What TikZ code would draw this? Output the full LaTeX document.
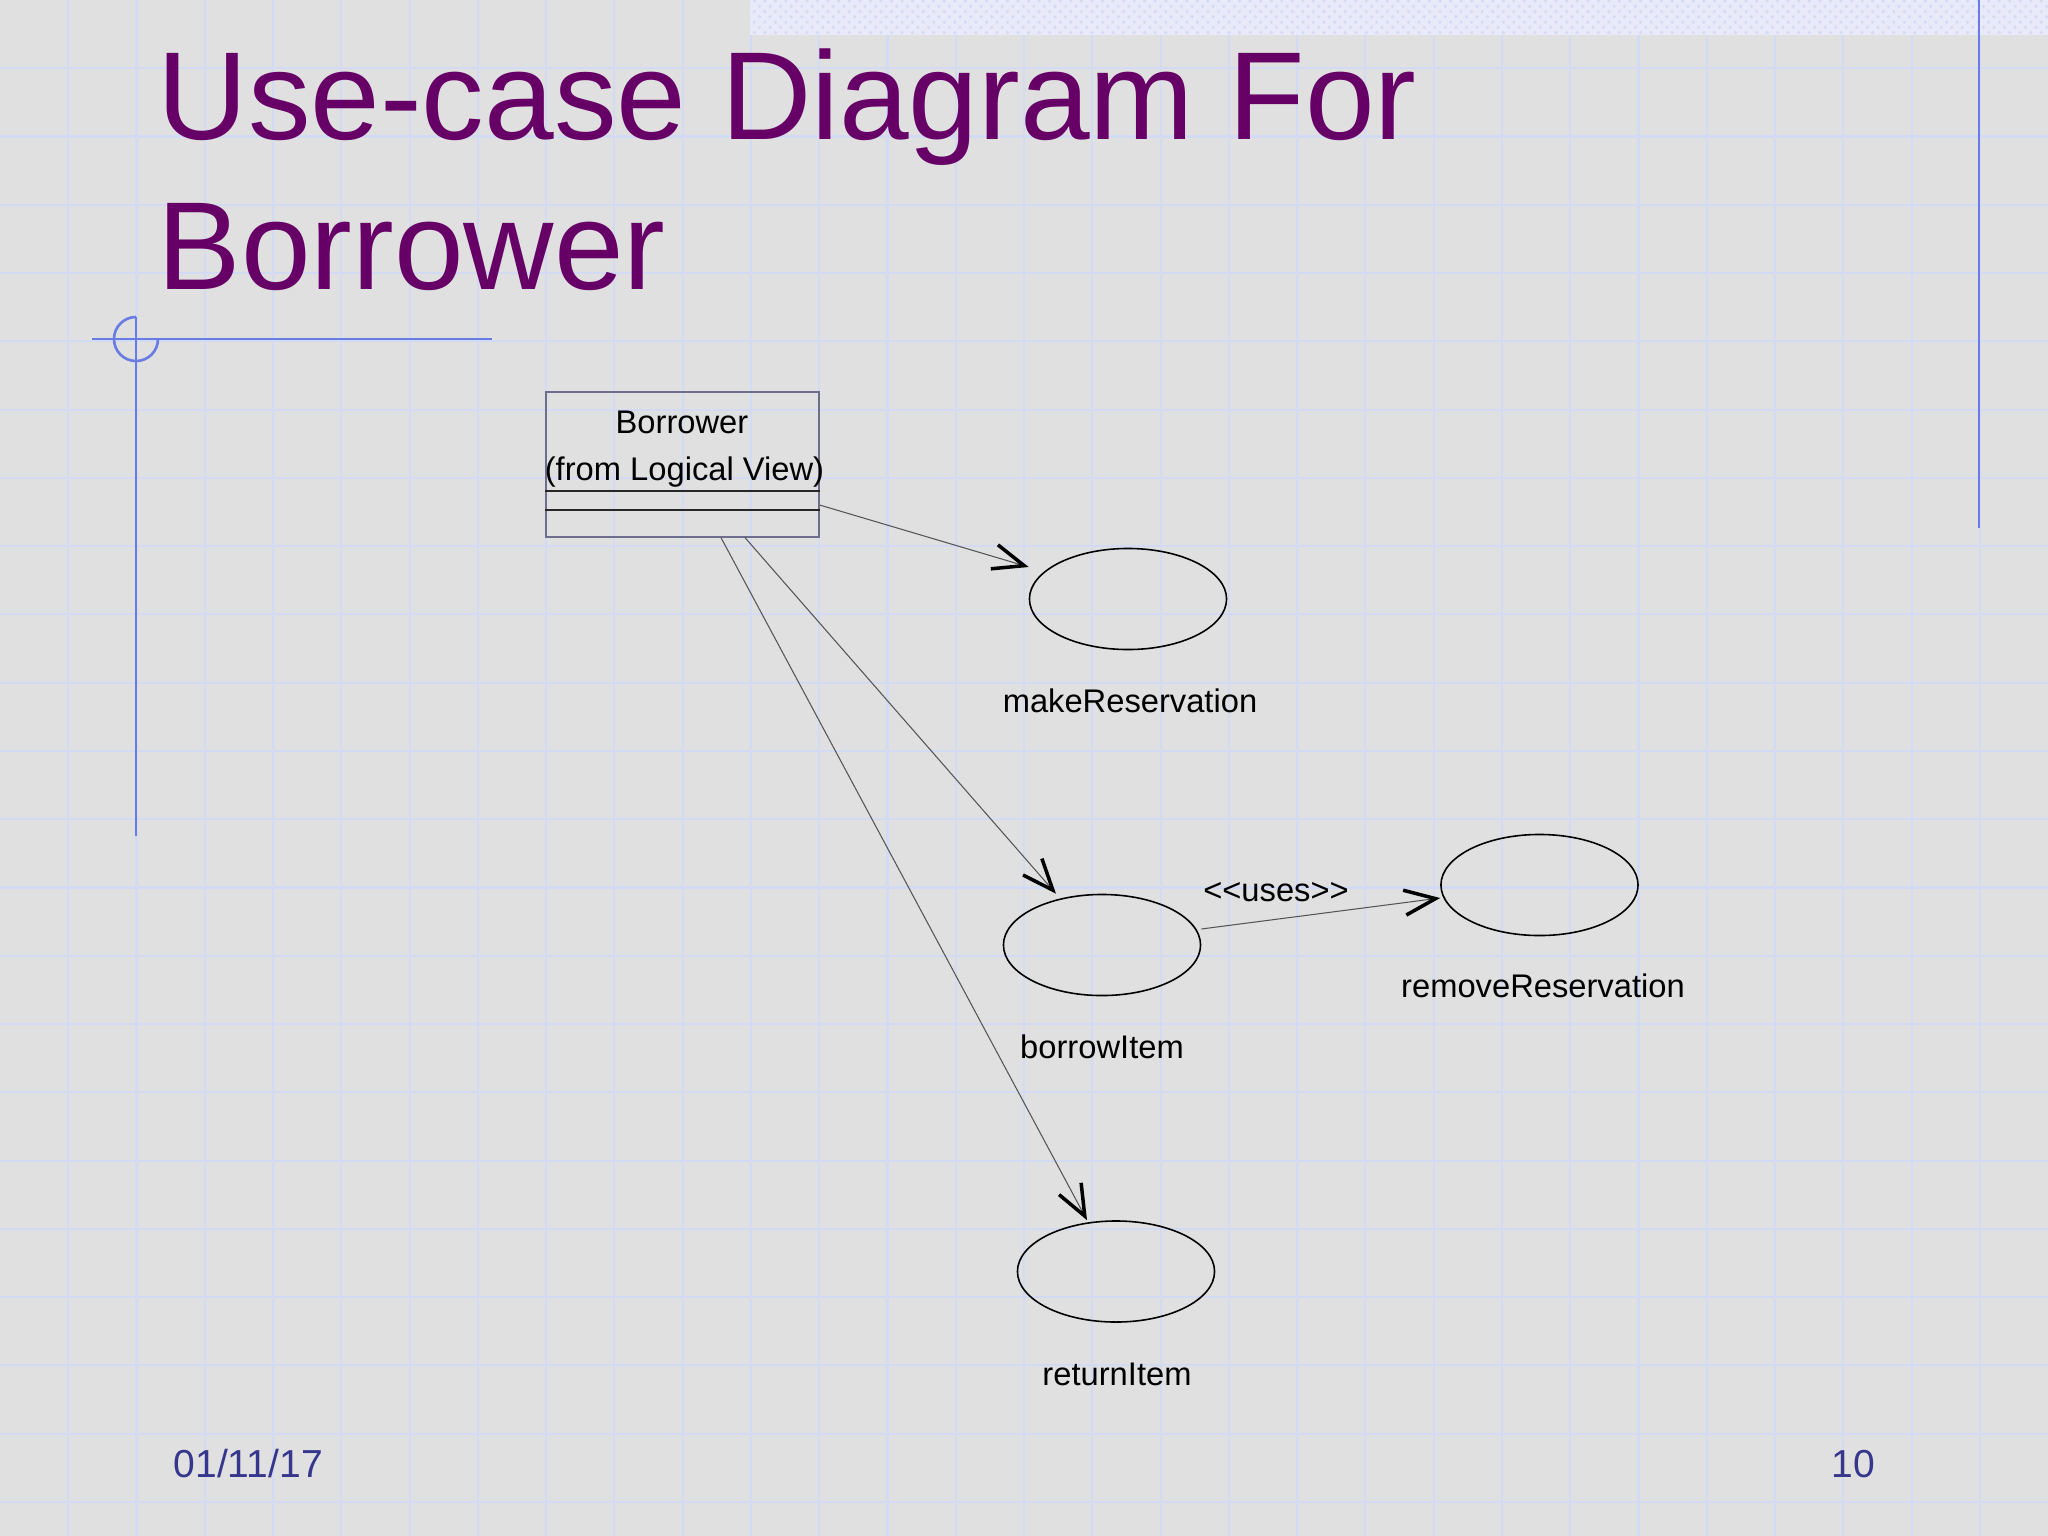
\documentclass[tikz,border=0pt]{standalone}
\usepackage{fontspec}
\setmainfont{Liberation Sans}
\usetikzlibrary{arrows.meta,shapes.geometric,patterns}

\definecolor{slidebg}{RGB}{224,224,224}
\definecolor{gridblue}{RGB}{210,218,244}
\definecolor{rulerblue}{RGB}{104,124,228}
\definecolor{bandfill}{RGB}{232,234,250}
\definecolor{titlepurple}{RGB}{102,0,102}
\definecolor{footblue}{RGB}{54,54,140}
\definecolor{boxedge}{RGB}{110,110,140}
\definecolor{linkgray}{RGB}{85,85,85}

\tikzset{
  gridline/.style={gridblue, line width=0.6pt},
  ruler/.style={rulerblue, line width=0.75pt},
  slidetitle/.style={anchor=base west, inner sep=0pt, text=titlepurple,
    font=\fontsize{35.6}{40}\selectfont},
  foot/.style={anchor=base west, inner sep=0pt, text=footblue,
    font=\fontsize{11.1}{13}\selectfont},
  classbox/.style={draw=boxedge, line width=0.35pt, minimum width=2.73cm,
    minimum height=1.45cm, inner sep=0pt},
  sepline/.style={black!85, line width=0.5pt},
  usecase/.style={draw=black, ellipse, line width=0.45pt, minimum width=1.97cm,
    minimum height=1.01cm, inner sep=0pt},
  uclabel/.style={anchor=base, inner sep=0pt, font=\fontsize{9.3}{11}\selectfont},
  link/.style={linkgray, line width=0.3pt}
}

\begin{document}
\begin{tikzpicture}[x=0.01cm, y=-0.01cm,
  >={Straight Barb[length=3.1mm, width=2.5mm, line width=1pt, color=black]}]
\fill[slidebg] (0,0) rectangle (2048,1536);
\useasboundingbox (0,0) rectangle (2048,1536);

\foreach \k in {1,...,29}
  \draw[gridline] (\k*68.27,0) -- (\k*68.27,1536);
\foreach \k in {1,...,22}
  \draw[gridline] (0,\k*68.27) -- (2048,\k*68.27);

\fill[bandfill] (750,0) rectangle (2048,35);
\fill[pattern=crosshatch dots, pattern color=gridblue] (750,0) rectangle (2048,35);

\draw[ruler] (1979,0) -- (1979,528);
\draw[ruler] (92,339) -- (492,339);
\draw[ruler] (136,317) -- (136,836);
\draw[ruler] (136,317) arc[start angle=90, end angle=360, radius=0.22cm];

\node[slidetitle] (title1) at (157,139) {Use-case Diagram For};
\node[slidetitle] (title2) at (157,289) {Borrower};

\node[classbox] (borrower) at (682.5,464.5) {};
\node[uclabel] (bname) at (682,433) {Borrower};
\node[uclabel] (bview) at (684.5,480) {(from Logical View)};
\draw[sepline] (borrower.west |- 0,491) -- (borrower.east |- 0,491);
\draw[sepline] (borrower.west |- 0,510) -- (borrower.east |- 0,510);

\node[usecase] (make) at (1128,599) {};
\node[usecase] (borrow) at (1102,945) {};
\node[usecase] (remove) at (1539.5,885) {};
\node[usecase] (return) at (1116,1271.5) {};

\node[uclabel] (makelbl) at (1130,712) {makeReservation};
\node[uclabel] (borrowlbl) at (1102,1058) {borrowItem};
\node[uclabel] (removelbl) at (1543,997) {removeReservation};
\node[uclabel] (returnlbl) at (1117,1385) {returnItem};
\node[uclabel] (useslbl) at (1276,901) {<\kern0pt<uses>\kern0pt>};

\path[->, link] ([yshift=-4.05mm]borrower.east) edge ([yshift=3.2mm]make.west);
\path[->, link] ([xshift=6.25mm]borrower.south) edge ([xshift=-4.6mm]borrow.north);
\path[->, link] ([xshift=3.85mm]borrower.south) edge ([xshift=-2.9mm]return.north);
\path[->, link] ([yshift=1.6mm]borrow.east) edge ([yshift=-1.3mm]remove.west);

\node[foot] (date) at (173,1477) {01/11/17};
\node[foot] (pagenum) at (1831,1477) {10};
\end{tikzpicture}
\end{document}
